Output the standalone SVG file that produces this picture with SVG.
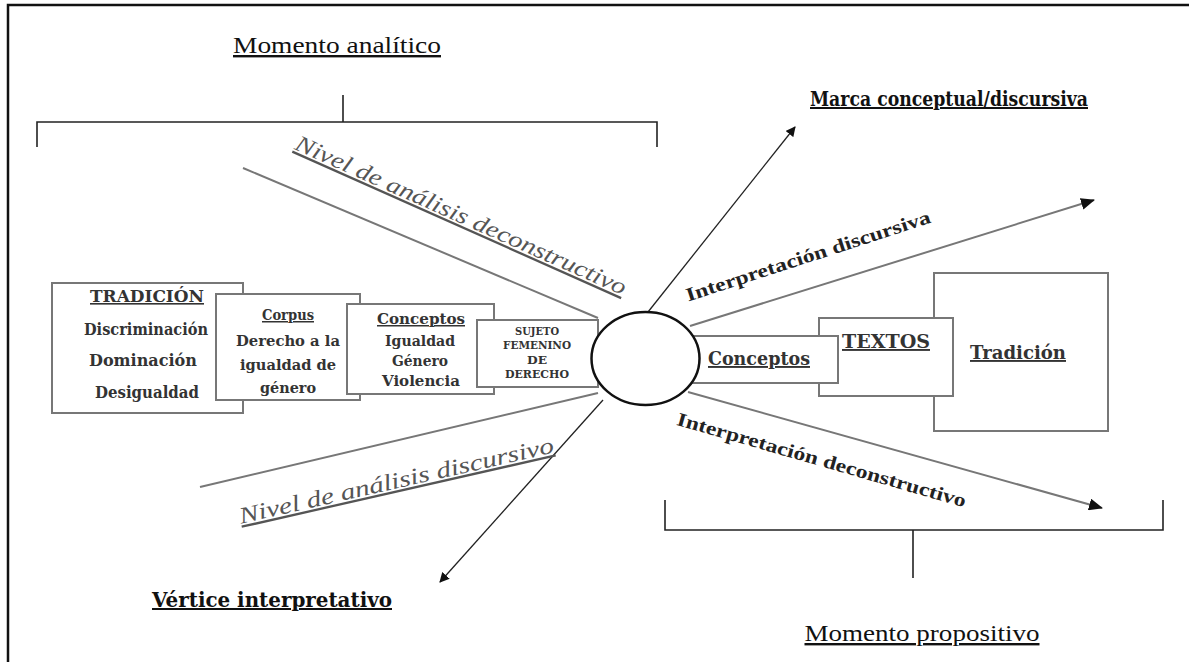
<svg xmlns="http://www.w3.org/2000/svg" width="1189" height="662" viewBox="0 0 1189 662">
<defs>
<style>
.title{font-family:"Liberation Serif","Times New Roman",serif;font-size:24px;fill:#111;text-decoration:underline;}
.btitle{font-family:"DejaVu Serif","Liberation Serif",serif;font-size:20px;font-weight:bold;fill:#111;text-decoration:underline;}
.box{fill:#fff;stroke:#777;stroke-width:2;}
.bt{font-family:"DejaVu Serif","Liberation Serif",serif;font-weight:bold;fill:#333;text-anchor:middle;}
.gline{stroke:#777;stroke-width:2;fill:none;}
.aline{stroke:#222;stroke-width:1.3;fill:none;}
.bline{stroke:#222;stroke-width:1.6;fill:none;}
.ital{font-family:"Liberation Serif","Times New Roman",serif;font-style:italic;font-size:23px;fill:#555;text-decoration:underline;text-anchor:middle;}
.lbl{font-family:"Liberation Serif","Times New Roman",serif;font-weight:bold;font-size:19px;fill:#222;text-anchor:middle;}
</style>
<marker id="ah" markerWidth="10" markerHeight="10" refX="9" refY="5" orient="auto" markerUnits="userSpaceOnUse" viewBox="0 0 10 10">
<path d="M0,0 L10,5 L0,10 Z" fill="#111"/>
</marker>
<marker id="ahg" markerWidth="14" markerHeight="12" refX="13" refY="6" orient="auto" markerUnits="userSpaceOnUse" viewBox="0 0 14 12">
<path d="M0,0 L14,6 L0,12 Z" fill="#111"/>
</marker>
</defs>
<rect x="0" y="0" width="1189" height="662" fill="#fff"/>
<path d="M8,662 L8,5 L1189,5" fill="none" stroke="#111" stroke-width="2.5"/>

<g id="connectors">
  <path class="bline" d="M343,95 L343,122 M37,147 L37,122 L657,122 L657,147"/>
  <path class="bline" d="M665,500 L665,530 L1163,530 L1163,500 M913,530 L913,578"/>
  <line class="gline" x1="243" y1="168" x2="598" y2="318"/>
  <line class="gline" x1="598" y1="393" x2="200" y2="487"/>
  <line class="gline" x1="690" y1="326" x2="1094" y2="200" marker-end="url(#ahg)"/>
  <line class="gline" x1="688" y1="392" x2="1102" y2="508" marker-end="url(#ahg)"/>
  <line class="aline" x1="648" y1="312" x2="795" y2="127" marker-end="url(#ah)"/>
  <line class="aline" x1="603" y1="400" x2="440" y2="582" marker-end="url(#ah)"/>
</g>

<g id="labels">
  <text class="title" x="337" y="53" text-anchor="middle" textLength="208" lengthAdjust="spacingAndGlyphs">Momento analítico</text>
  <text class="btitle" x="949" y="106" text-anchor="middle" textLength="278" lengthAdjust="spacingAndGlyphs">Marca conceptual/discursiva</text>
  <text class="btitle" x="272" y="607" text-anchor="middle" textLength="240" lengthAdjust="spacingAndGlyphs">Vértice interpretativo</text>
  <text class="title" x="922" y="641" text-anchor="middle" textLength="235" lengthAdjust="spacingAndGlyphs">Momento propositivo</text>
  <text class="ital" transform="translate(458,222) rotate(24)" textLength="360" lengthAdjust="spacingAndGlyphs">Nivel de análisis deconstructivo</text>
  <text class="ital" transform="translate(398,488) rotate(-12.8)" textLength="322" lengthAdjust="spacingAndGlyphs">Nivel de análisis discursivo</text>
  <text class="lbl" transform="translate(810,262) rotate(-18)" textLength="256" lengthAdjust="spacingAndGlyphs">Interpretación discursiva</text>
  <text class="lbl" transform="translate(820,466) rotate(16)" textLength="300" lengthAdjust="spacingAndGlyphs">Interpretación deconstructivo</text>
</g>

<g id="tradicion-left">
  <rect class="box" x="52" y="283" width="191" height="130"/>
  <text class="bt" x="147" y="302" font-size="16" text-decoration="underline" textLength="114" lengthAdjust="spacingAndGlyphs">TRADICIÓN</text>
  <text class="bt" x="146" y="335" font-size="16" textLength="124" lengthAdjust="spacingAndGlyphs">Discriminación</text>
  <text class="bt" x="143" y="366" font-size="16" textLength="108" lengthAdjust="spacingAndGlyphs">Dominación</text>
  <text class="bt" x="147" y="398" font-size="16" textLength="104" lengthAdjust="spacingAndGlyphs">Desigualdad</text>
</g>
<g id="corpus">
  <rect class="box" x="216" y="294" width="144" height="106"/>
  <text class="bt" x="288" y="320" font-size="15" text-decoration="underline" textLength="52" lengthAdjust="spacingAndGlyphs">Corpus</text>
  <text class="bt" x="288" y="346" font-size="15" textLength="104" lengthAdjust="spacingAndGlyphs">Derecho a la</text>
  <text class="bt" x="288" y="370" font-size="15" textLength="96" lengthAdjust="spacingAndGlyphs">igualdad de</text>
  <text class="bt" x="288" y="393" font-size="15" textLength="56" lengthAdjust="spacingAndGlyphs">género</text>
</g>
<g id="conceptos-left">
  <rect class="box" x="347" y="304" width="147" height="90"/>
  <text class="bt" x="421" y="324" font-size="15" text-decoration="underline" textLength="88" lengthAdjust="spacingAndGlyphs">Conceptos</text>
  <text class="bt" x="420" y="346" font-size="15" textLength="70" lengthAdjust="spacingAndGlyphs">Igualdad</text>
  <text class="bt" x="420" y="366" font-size="15" textLength="56" lengthAdjust="spacingAndGlyphs">Género</text>
  <text class="bt" x="421" y="386" font-size="15" textLength="78" lengthAdjust="spacingAndGlyphs">Violencia</text>
</g>
<g id="sujeto">
  <rect class="box" x="477" y="320" width="121" height="67"/>
  <text class="bt" x="537" y="335" font-size="10.5" textLength="44" lengthAdjust="spacingAndGlyphs">SUJETO</text>
  <text class="bt" x="537" y="349" font-size="10.5" textLength="68" lengthAdjust="spacingAndGlyphs">FEMENINO</text>
  <text class="bt" x="537" y="364" font-size="10.5" textLength="20" lengthAdjust="spacingAndGlyphs">DE</text>
  <text class="bt" x="537" y="378" font-size="10.5" textLength="64" lengthAdjust="spacingAndGlyphs">DERECHO</text>
</g>

<g id="tradicion-right">
  <rect class="box" x="934" y="273" width="174" height="158"/>
  <text class="bt" x="1018" y="359" font-size="19" text-decoration="underline" textLength="96" lengthAdjust="spacingAndGlyphs">Tradición</text>
</g>
<g id="textos">
  <rect class="box" x="819" y="318" width="134" height="78"/>
  <text class="bt" x="886" y="348" font-size="19" text-decoration="underline" textLength="88" lengthAdjust="spacingAndGlyphs">TEXTOS</text>
</g>
<g id="conceptos-right">
  <rect class="box" x="680" y="336" width="158" height="47"/>
  <text class="bt" x="759" y="365" font-size="19" text-decoration="underline" textLength="102" lengthAdjust="spacingAndGlyphs">Conceptos</text>
</g>
<g id="centro">
  <ellipse cx="645.5" cy="358.5" rx="54" ry="46.5" fill="#fff" stroke="#111" stroke-width="2.5"/>
</g>
</svg>
